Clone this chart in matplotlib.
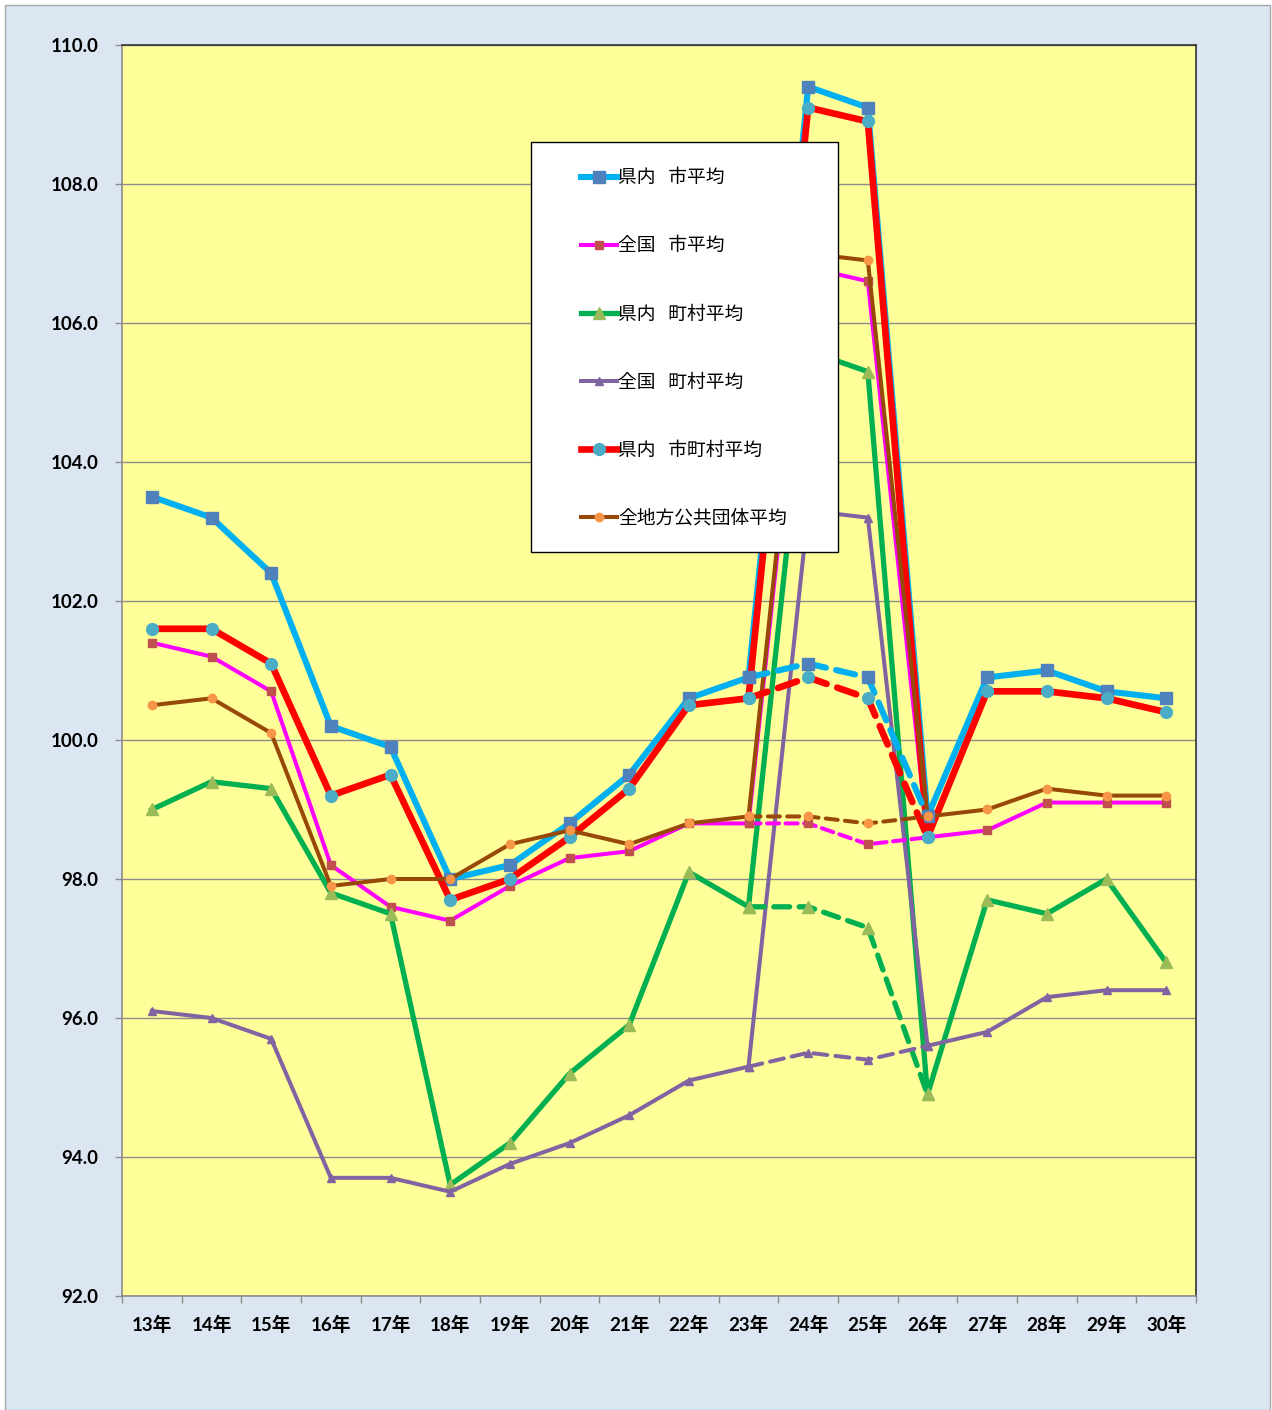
import numpy as np
import matplotlib
matplotlib.use("Agg")
import matplotlib.pyplot as plt
from matplotlib.patches import Rectangle
from matplotlib.ticker import FixedLocator, FormatStrFormatter

plt.rcParams['font.family'] = ['Lato', 'Noto Sans CJK JP', 'DejaVu Sans']

# --- data (ラスパイレス指数) ---
years = ['13年', '14年', '15年', '16年', '17年', '18年', '19年', '20年', '21年',
         '22年', '23年', '24年', '25年', '26年', '27年', '28年', '29年', '30年']

ken_shi = [103.5, 103.2, 102.4, 100.2, 99.9, 98.0, 98.2, 98.8, 99.5,
           100.6, 100.9, 109.4, 109.1, 98.9, 100.9, 101.0, 100.7, 100.6]
zenkoku_shi = [101.4, 101.2, 100.7, 98.2, 97.6, 97.4, 97.9, 98.3, 98.4,
               98.8, 98.8, 106.8, 106.6, 98.6, 98.7, 99.1, 99.1, 99.1]
ken_choson = [99.0, 99.4, 99.3, 97.8, 97.5, 93.6, 94.2, 95.2, 95.9,
              98.1, 97.6, 105.6, 105.3, 94.9, 97.7, 97.5, 98.0, 96.8]
zenkoku_choson = [96.1, 96.0, 95.7, 93.7, 93.7, 93.5, 93.9, 94.2, 94.6,
                  95.1, 95.3, 103.3, 103.2, 95.6, 95.8, 96.3, 96.4, 96.4]
ken_shichoson = [101.6, 101.6, 101.1, 99.2, 99.5, 97.7, 98.0, 98.6, 99.3,
                 100.5, 100.6, 109.1, 108.9, 98.6, 100.7, 100.7, 100.6, 100.4]
zen_chiho = [100.5, 100.6, 100.1, 97.9, 98.0, 98.0, 98.5, 98.7, 98.5,
             98.8, 98.9, 107.0, 106.9, 98.9, 99.0, 99.3, 99.2, 99.2]

# 国の給与減額特例を除いた参考値 (23年〜26年, 点線)
alt_years = ['23年', '24年', '25年', '26年']
ken_shi_alt = [100.9, 101.1, 100.9, 98.9]
zenkoku_shi_alt = [98.8, 98.8, 98.5, 98.6]
ken_choson_alt = [97.6, 97.6, 97.3, 94.9]
zenkoku_choson_alt = [95.3, 95.5, 95.4, 95.6]
ken_shichoson_alt = [100.6, 100.9, 100.6, 98.6]
zen_chiho_alt = [98.9, 98.9, 98.8, 98.9]

labels = ['県内   市平均', '全国   市平均', '県内   町村平均',
          '全国   町村平均', '県内   市町村平均', '全地方公共団体平均']

# line color, line width, marker, marker size, marker color, dash pattern
styles = [
    ('#00B0F0', 4.4, 's', 8.5, '#4F81BD', (3.2, 1.7)),
    ('#FF00FF', 2.9, 's', 6.0, '#C0504D', (3.0, 1.6)),
    ('#00B050', 3.8, '^', 9.0, '#9BBB59', (3.0, 1.8)),
    ('#8064A2', 2.9, '^', 6.0, '#8064A2', (3.5, 2.0)),
    ('#FF0000', 4.8, 'o', 8.5, '#4BACC6', (3.0, 1.7)),
    ('#984807', 2.9, 'o', 6.0, '#F79646', (3.0, 1.8)),
]

solid = [ken_shi, zenkoku_shi, ken_choson, zenkoku_choson, ken_shichoson, zen_chiho]
dashed = [ken_shi_alt, zenkoku_shi_alt, ken_choson_alt, zenkoku_choson_alt,
          ken_shichoson_alt, zen_chiho_alt]

W, H = 1272, 1410
fig = plt.figure(figsize=(W / 100, H / 100), dpi=100)
fig.patch.set_facecolor('white')
fig.patches.append(Rectangle((5 / W, 0), 1265 / W, 1 - 5 / H, transform=fig.transFigure,
                             facecolor='#DCE6F2', edgecolor='#A6A6A6', lw=1, zorder=-10))

ax = fig.add_axes([122 / W, 1 - 1296 / H, (1196 - 122) / W, (1296 - 45) / H])
ax.set_facecolor('#FFFF99')

handles = []
for vals, (lc, lw, mk, ms, mc, dash) in zip(solid, styles):
    h, = ax.plot(years, vals, color=lc, lw=lw, marker=mk, markersize=ms,
                 markerfacecolor=mc, markeredgecolor=mc, solid_joinstyle='round')
    handles.append(h)
for alt, (lc, lw, mk, ms, mc, dash) in zip(dashed, styles):
    ax.plot(alt_years, alt, color=lc, lw=lw, linestyle=(0, dash), marker=mk,
            markersize=ms, markerfacecolor=mc, markeredgecolor=mc, dash_capstyle='round')

ax.set_xlim(-0.5, len(years) - 0.5)
ax.set_ylim(92, 110)
ax.set_yticks(np.arange(92, 110.1, 2))
ax.yaxis.set_major_formatter(FormatStrFormatter('%.1f'))
ax.grid(axis='y', color='#8C8C8C', lw=1)
ax.set_axisbelow(True)

ax.xaxis.set_minor_locator(FixedLocator(np.arange(-0.5, len(years), 1)))
ax.tick_params(axis='x', which='major', length=0, pad=14, labelsize=13.5)
ax.tick_params(axis='x', which='minor', length=5, color='#8C8C8C', width=1)
ax.tick_params(axis='y', length=5, color='#8C8C8C', width=1, pad=12, labelsize=13.5)
for t in ax.get_xticklabels() + ax.get_yticklabels():
    t.set_fontweight('bold')

ax.spines['top'].set_color('#333333')
ax.spines['right'].set_color('#333333')
ax.spines['left'].set_color('#8C8C8C')
ax.spines['bottom'].set_color('#8C8C8C')
for s in ax.spines.values():
    s.set_linewidth(1.2)

# legend box
fig.patches.append(Rectangle((531 / W, 1 - 552 / H), 307 / W, 410 / H, transform=fig.transFigure,
                             facecolor='white', edgecolor='black', lw=1, zorder=3))
leg = fig.legend(handles, labels, loc='upper left', bbox_to_anchor=(572 / W, 1 - 158 / H),
                 frameon=False, borderpad=0, handlelength=1.9, handletextpad=0.05,
                 labelspacing=2.51, prop={'family': 'Noto Sans CJK JP', 'size': 13.5})
leg.set_zorder(4)

plt.savefig('out.png', dpi=100, facecolor=fig.get_facecolor())
